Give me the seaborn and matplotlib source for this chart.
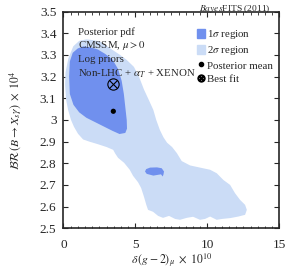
import numpy as np
import pandas as pd
import seaborn as sns
import matplotlib.pyplot as plt
from matplotlib.patches import Patch
from matplotlib.lines import Line2D
from matplotlib.ticker import MultipleLocator, FuncFormatter

# 2 sigma region outline (delta(g-2)_mu x 1e10, BR(B->Xs gamma) x 1e4)
light_x = [0.15, 0.35, 0.69, 1.1, 1.6, 2.1, 2.55, 3.24, 3.94, 4.4, 4.9, 5.25, 5.6, 5.95,
           6.25, 6.45, 6.7, 6.95, 7.2, 7.55, 7.88, 8.22, 8.8, 9.49, 10.19, 10.65, 11.11,
           11.58, 11.92, 12.27, 12.62, 12.74, 12.62, 12.15, 11.6, 11.02, 10.65, 10.19, 9.84,
           9.49, 9.01, 8.57, 8.1, 7.76, 7.34, 6.92, 6.58, 6.23, 5.88, 5.76, 5.6, 5.4, 5.19,
           4.84, 4.61, 4.22, 3.8, 3.6, 3.46, 3.0, 2.4, 1.8, 1.37, 1.02, 0.74, 0.53, 0.33,
           0.19, 0.12]
light_y = [3.22, 3.285, 3.34, 3.365, 3.372, 3.368, 3.362, 3.331, 3.3, 3.277, 3.245, 3.2,
           3.14, 3.09, 3.046, 3.0, 2.954, 2.92, 2.895, 2.875, 2.847, 2.81, 2.79, 2.78, 2.77,
           2.754, 2.723, 2.7, 2.662, 2.631, 2.608, 2.585, 2.562, 2.554, 2.547, 2.543, 2.539,
           2.554, 2.543, 2.539, 2.553, 2.548, 2.539, 2.543, 2.557, 2.548, 2.557, 2.576, 2.585,
           2.608, 2.645, 2.686, 2.712, 2.742, 2.77, 2.802, 2.825, 2.845, 2.862, 2.875, 2.888,
           2.9, 2.91, 2.936, 2.968, 3.0, 3.046, 3.093, 3.162]

# 1 sigma region outlines
dark_x = [0.4, 0.45, 0.65, 1.0, 1.4, 1.9, 2.4, 2.9, 3.4, 3.8, 4.05, 4.2, 4.3, 4.4, 4.42,
          4.3, 3.9, 3.4, 2.8, 2.2, 1.6, 1.1, 0.7, 0.45]
dark_y = [3.2, 3.27, 3.31, 3.33, 3.34, 3.335, 3.325, 3.305, 3.28, 3.235, 3.18, 3.12, 3.06,
          3.0, 2.96, 2.94, 2.935, 2.95, 2.97, 2.99, 3.01, 3.035, 3.07, 3.12]
blob_x = [5.67, 5.75, 6.02, 6.5, 6.83, 6.99, 6.95, 6.9, 6.78, 6.25, 5.79]
blob_y = [2.762, 2.773, 2.78, 2.781, 2.777, 2.762, 2.748, 2.739, 2.749, 2.743, 2.751]

mean_x, mean_y = [3.47], [3.04]
best_x, best_y = [3.43], [3.165]

x_ticks = [0, 5, 10, 15]
y_ticks = [2.5, 2.6, 2.7, 2.8, 2.9, 3.0, 3.1, 3.2, 3.3, 3.4, 3.5]
info_lines = ['Posterior pdf', r'CMSSM, $\mu > 0$', 'Log priors',
              r'Non-LHC + $\alpha_T$ + XENON']

dark_col = '#7090ee'
light_col = '#cbdcf6'

sns.set_style('ticks')
plt.rcParams['font.family'] = 'serif'
plt.rcParams['font.serif'] = ['Liberation Serif', 'DejaVu Serif']
plt.rcParams['mathtext.fontset'] = 'stix'

fig = plt.figure(figsize=(2.88, 2.77), dpi=100)
ax = fig.add_axes([0.22, 0.176, 0.75, 0.782])

ax.fill(light_x, light_y, color=light_col, lw=0)
ax.fill(dark_x, dark_y, color=dark_col, lw=0)
ax.fill(blob_x, blob_y, color=dark_col, lw=0)

pts = pd.DataFrame({'x': mean_x, 'y': mean_y})
sns.scatterplot(data=pts, x='x', y='y', color='black', s=14, edgecolor='none', ax=ax)
bf = pd.DataFrame({'x': best_x, 'y': best_y})
sns.scatterplot(data=bf, x='x', y='y', color='black', marker=r'$\otimes$', s=80,
                linewidth=0, ax=ax)

ax.set_xlim(0, 15)
ax.set_ylim(2.5, 3.5)
ax.set_xticks(x_ticks)
ax.set_yticks(y_ticks)
ax.xaxis.set_minor_locator(MultipleLocator(0.5))
ax.yaxis.set_major_formatter(FuncFormatter(lambda v, p: '%g' % v))
ax.tick_params(which='both', direction='in', top=True, right=True, labelsize=9.5)
ax.tick_params(which='major', length=3.5, width=0.8)
ax.tick_params(which='minor', length=1.8, width=0.6)
ax.tick_params(axis='x', pad=8)
ax.tick_params(axis='y', pad=5)
for s in ax.spines.values():
    s.set_linewidth(1.2)

ax.set_xlabel(r'$\delta\,(g-2)_\mu\ \times\ 10^{10}$', fontsize=8.5, labelpad=0)
ax.set_ylabel(r'$\mathcal{BR}\,(B \rightarrow X_s\gamma)\ \times\ 10^4$', fontsize=8.5,
              labelpad=12)

for i, t in enumerate(info_lines):
    ax.text(0.07, 0.906 - i * 0.064, t, transform=ax.transAxes, fontsize=7.8, va='center')

handles = [Patch(color=dark_col, label=r'1$\sigma$ region'),
           Patch(color=light_col, label=r'2$\sigma$ region'),
           Line2D([], [], ls='none', marker='o', color='black', ms=3, label='Posterior mean'),
           Line2D([], [], ls='none', marker=r'$\otimes$', color='black', ms=5, label='Best fit')]
ax.legend(handles=handles, loc='upper right', bbox_to_anchor=(1.0, 0.955), frameon=False,
          fontsize=7.8, handlelength=0.8, handleheight=0.9, handletextpad=0.15,
          labelspacing=0.3, borderaxespad=0.2)

fig.text(0.94, 0.99, r'$\mathit{Bayes}$FITS (2011)', ha='right', va='top', fontsize=6.8)

fig.savefig('out.png', dpi=100)
